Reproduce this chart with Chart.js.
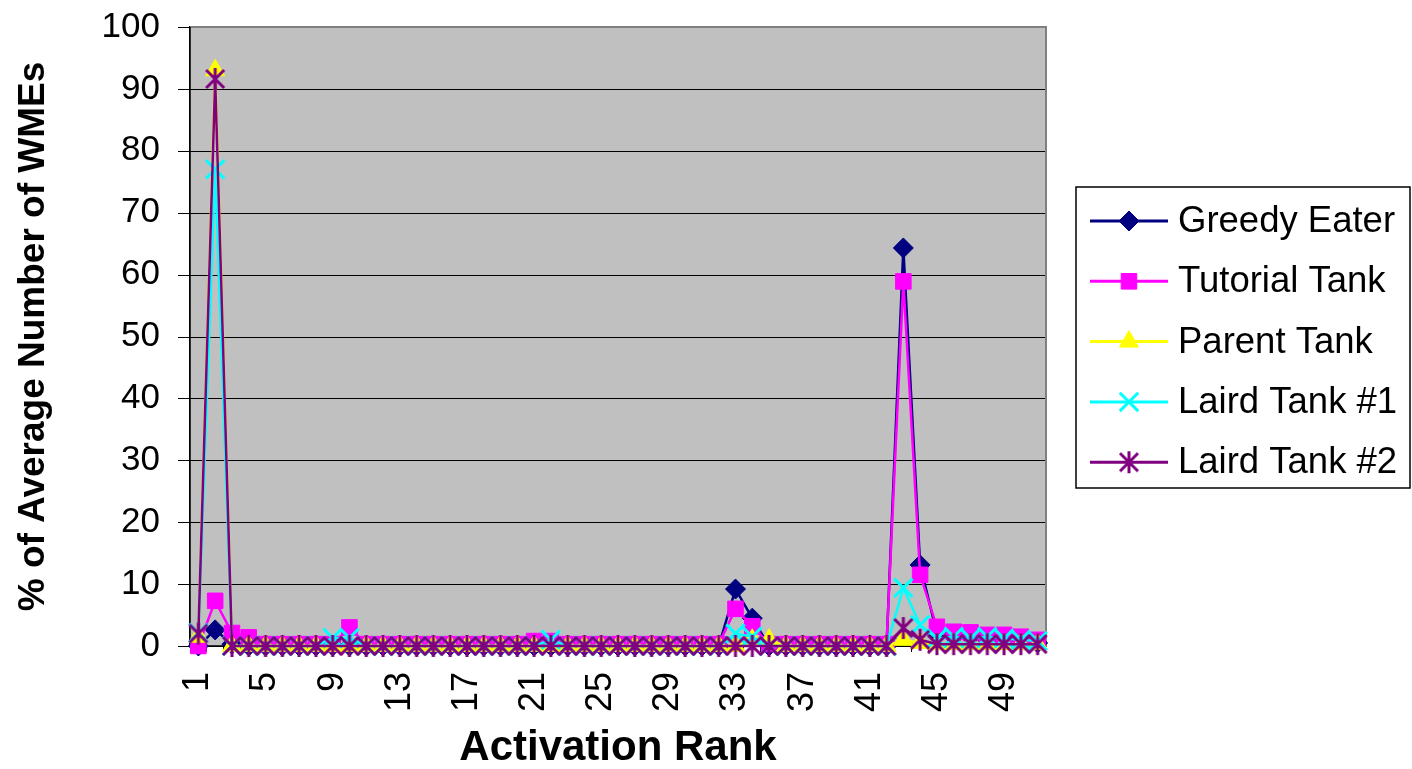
<!DOCTYPE html>
<html>
<head>
<meta charset="utf-8">
<script src="https://cdn.jsdelivr.net/npm/chart.js@4/dist/chart.umd.min.js"></script>
<style>
  html, body { margin: 0; padding: 0; background: #fff; }
  #wrap { width: 1412px; height: 769px; }
</style>
</head>
<body>
<div id="wrap"><canvas id="myChart" width="1412" height="769"></canvas></div>
<script>
// activation ranks 1..51
const ranks = ['1','2','3','4','5','6','7','8','9','10','11','12','13','14','15','16','17','18','19','20',
    '21','22','23','24','25','26','27','28','29','30','31','32','33','34','35','36','37','38','39','40',
    '41','42','43','44','45','46','47','48','49','50','51'];
const shownRanks = ['1','5','9','13','17','21','25','29','33','37','41','45','49'];
const yTicks = [0, 10, 20, 30, 40, 50, 60, 70, 80, 90, 100];

const greedyEater = [0, 2.6, 0.3, 0, 0, 0, 0, 0, 0, 0,
    0, 0, 0, 0, 0, 0, 0, 0, 0, 0,
    0, 0, 0, 0, 0, 0, 0, 0, 0, 0,
    0, 0, 9.2, 4.5, 0, 0, 0, 0, 0, 0,
    0, 0, 64.3, 13.1, 2, 1.5, 1.5, 1, 1, 1,
    0.5];
const tutorialTank = [0, 7.3, 2.1, 1.4, 0.3, 0.3, 0.3, 0.3, 0.3, 3.0,
    0.3, 0.3, 0.3, 0.3, 0.3, 0.3, 0.3, 0.3, 0.3, 0.3,
    0.8, 0.8, 0.3, 0.3, 0.3, 0.3, 0.3, 0.3, 0.3, 0.3,
    0.3, 0.3, 6.0, 3.2, 0.3, 0.3, 0.3, 0.3, 0.3, 0.3,
    0.3, 0.3, 58.9, 11.5, 3.1, 2.3, 2.2, 1.8, 1.8, 1.5,
    1.0];
const parentTank = [1.5, 93, 0, 0, 0, 0, 0, 0, 0, 0,
    0, 0, 0, 0, 0, 0, 0, 0, 0, 0,
    0, 0, 0, 0, 0, 0, 0, 0, 0, 0,
    0, 0, 0, 1, 1, 0, 0, 0, 0, 0,
    0, 0, 1, 0.5, 0.3, 0.3, 0.3, 0.3, 0.3, 0.3,
    0.3];
const lairdTank1 = [2.1, 77, 0, 0, 0, 0, 0, 0, 1.3, 1.3,
    0, 0, 0, 0, 0, 0, 0, 0, 0, 0,
    0, 1, 0, 0, 0, 0, 0, 0, 0, 0,
    0, 0, 2, 1.5, 0, 0, 0, 0, 0, 0,
    0, 0, 9.4, 3.4, 1.2, 1.5, 1.2, 1.5, 1.2, 1,
    0.8];
const lairdTank2 = [2, 91.6, 0, 0, 0, 0, 0, 0, 0, 0,
    0, 0, 0, 0, 0, 0, 0, 0, 0, 0,
    0, 0, 0, 0, 0, 0, 0, 0, 0, 0,
    0, 0, 0, 0, 0, 0, 0, 0, 0, 0,
    0, 0, 2.9, 1.0, 0.3, 0.3, 0.3, 0.3, 0.3, 0.3,
    0.3];

const FONT = '"Liberation Sans", Arial, sans-serif';

// excel style star: an X with a vertical bar
function makeStar(color) {
    const c = document.createElement('canvas');
    c.width = 24; c.height = 24;
    const g = c.getContext('2d');
    g.strokeStyle = color;
    g.lineWidth = 3;
    g.beginPath();
    g.moveTo(3, 3); g.lineTo(21, 21);
    g.moveTo(21, 3); g.lineTo(3, 21);
    g.moveTo(12, 1); g.lineTo(12, 23);
    g.stroke();
    return c;
}

function series(label, data, color, style, radius, order) {
    return {
        label: label,
        data: data,
        borderColor: color,
        backgroundColor: color,
        pointBackgroundColor: color,
        pointBorderColor: color,
        pointStyle: style,
        pointRadius: radius,
        pointBorderWidth: style === 'crossRot' ? 3 : 1,
        borderWidth: 2.5,
        tension: 0,
        clip: false,
        order: order
    };
}

const plotBackground = {
    id: 'plotBackground',
    beforeDatasetsDraw(chart) {
        const { ctx, chartArea: a } = chart;
        ctx.save();
        ctx.fillStyle = '#C0C0C0';
        ctx.fillRect(a.left, a.top, a.right - a.left, a.bottom - a.top);
        // horizontal gridlines + short outside ticks
        const y = chart.scales.y;
        ctx.strokeStyle = '#000';
        ctx.lineWidth = 1;
        yTicks.forEach(t => {
            const py = Math.round(y.getPixelForValue(t)) + 0.5;
            ctx.beginPath(); ctx.moveTo(a.left - 12, py); ctx.lineTo(a.right, py); ctx.stroke();
        });
        ctx.strokeStyle = '#808080';
        ctx.lineWidth = 2;
        ctx.beginPath();
        ctx.moveTo(a.left, a.top); ctx.lineTo(a.right, a.top); ctx.lineTo(a.right, a.bottom);
        ctx.stroke();
        ctx.strokeStyle = '#000';
        ctx.lineWidth = 1.5;
        ctx.beginPath();
        ctx.moveTo(a.left, a.top); ctx.lineTo(a.left, a.bottom); ctx.lineTo(a.right, a.bottom);
        ctx.stroke();
        ctx.restore();
    }
};

const boxLegend = {
    id: 'boxLegend',
    afterDraw(chart) {
        const ctx = chart.ctx;
        const box = { x: 1076, y: 187, w: 334, h: 301 };
        ctx.save();
        ctx.strokeStyle = '#000';
        ctx.lineWidth = 1.5;
        ctx.strokeRect(box.x, box.y, box.w, box.h);
        chart.data.datasets.forEach((ds, i) => {
            const cy = 221 + i * 60.3;
            ctx.strokeStyle = ds.borderColor;
            ctx.lineWidth = 3;
            ctx.beginPath(); ctx.moveTo(1090, cy); ctx.lineTo(1168, cy); ctx.stroke();
            ctx.fillStyle = ds.pointBackgroundColor;
            ctx.strokeStyle = ds.pointBorderColor;
            ctx.lineWidth = ds.pointBorderWidth;
            Chart.helpers.drawPoint(ctx, {
                pointStyle: ds.pointStyle,
                radius: ds.pointRadius,
                borderWidth: ds.pointBorderWidth,
                rotation: 0
            }, 1129, cy);
            ctx.fillStyle = '#000';
            ctx.font = '36.5px ' + FONT;
            ctx.textBaseline = 'middle';
            ctx.textAlign = 'left';
            ctx.fillText(ds.label, 1178, cy + 1);
        });
        ctx.restore();
    }
};

const ctx = document.getElementById('myChart').getContext('2d');

new Chart(ctx, {
    type: 'line',
    data: {
        labels: ranks,
        datasets: [
            series('Greedy Eater', greedyEater, '#000080', 'rectRot', 10, 5),
            series('Tutorial Tank', tutorialTank, '#FF00FF', 'rect', 11, 4),
            series('Parent Tank', parentTank, '#FFFF00', 'triangle', 11, 3),
            series('Laird Tank #1', lairdTank1, '#00FFFF', 'crossRot', 13, 2),
            series('Laird Tank #2', lairdTank2, '#800080', makeStar('#800080'), 12, 1)
        ]
    },
    options: {
        responsive: false,
        animation: false,
        layout: {
            padding: { top: 27, right: 366, left: 0, bottom: 0 }
        },
        scales: {
            y: {
                min: 0,
                max: 100,
                afterFit(scale) { scale.width = 190; },
                afterBuildTicks(scale) { scale.ticks = yTicks.map(v => ({ value: v })); },
                ticks: {
                    color: '#000',
                    font: { family: FONT, size: 35 },
                    padding: 2
                },
                grid: {
                    drawOnChartArea: false,
                    tickColor: 'rgba(0,0,0,0)',
                    tickLength: 28
                },
                border: { color: '#000', width: 1.5 },
                title: {
                    display: true,
                    text: '% of Average Number of WMEs',
                    color: '#000',
                    font: { family: FONT, size: 37, weight: 'bold', lineHeight: 1 },
                    padding: { top: 15, bottom: 0 }
                }
            },
            x: {
                offset: true,
                afterFit(scale) { scale.height = 123; },
                ticks: {
                    autoSkip: false,
                    maxRotation: 90,
                    minRotation: 90,
                    color: '#000',
                    font: { family: FONT, size: 36 },
                    padding: 20,
                    callback(value, index) {
                        const r = ranks[index];
                        return shownRanks.includes(r) ? r : '';
                    }
                },
                grid: {
                    color: '#000',
                    offset: true,
                    drawOnChartArea: false,
                    tickLength: 6
                },
                border: { color: '#000', width: 1.5 },
                title: {
                    display: true,
                    text: 'Activation Rank',
                    color: '#000',
                    font: { family: FONT, size: 42, weight: 'bold', lineHeight: 1 },
                    padding: { top: 0, bottom: 0 }
                }
            }
        },
        plugins: {
            legend: { display: false },
            tooltip: { enabled: false }
        }
    },
    plugins: [plotBackground, boxLegend]
});
</script>
</body>
</html>
